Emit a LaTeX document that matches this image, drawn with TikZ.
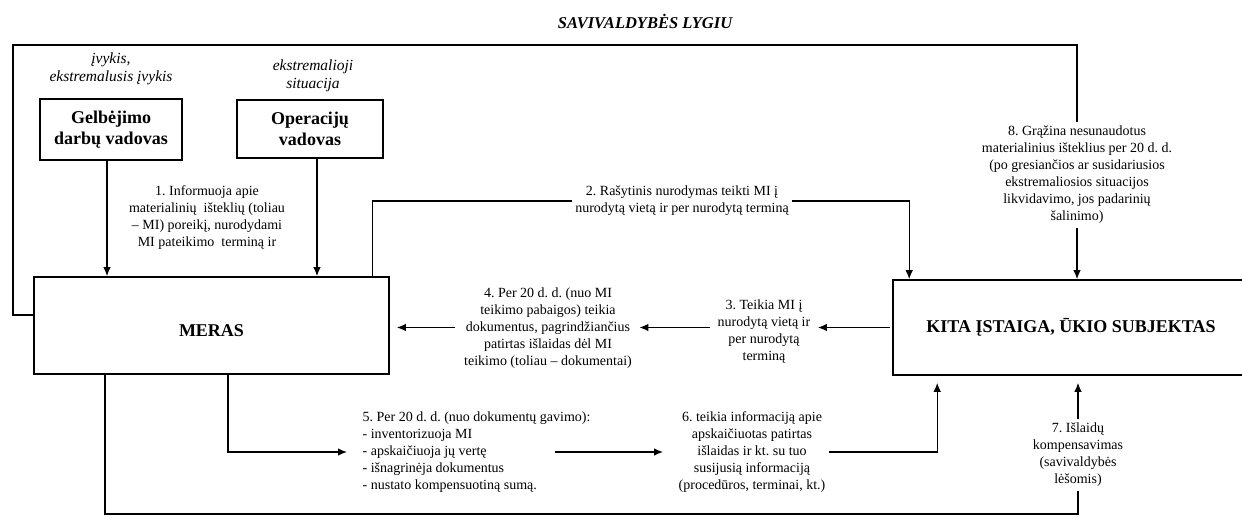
\documentclass[tikz,border=0pt]{standalone}
\usepackage{fontspec}
\setmainfont{Liberation Serif}
\usetikzlibrary{arrows.meta}
\frenchspacing
\begin{document}
\begin{tikzpicture}[x=1pt,y=-1pt,>={Latex[length=9pt,width=7.5pt]},line width=1.3pt,
    box/.style={draw,line width=1.6pt,align=center,font=\fontsize{18}{21}\selectfont\bfseries},
    lbl/.style={align=center,inner sep=3pt,font=\fontsize{14}{17}\selectfont},
    ev/.style={align=center,font=\fontsize{15.5}{18}\selectfont\itshape}]
		\newcommand{\frametop}{45}
		\newcommand{\botline}{514}
		\newcommand{\arrgap}{7pt}

		\useasboundingbox (0,0) rectangle (1242,517);
		\clip (0,0) rectangle (1242,517);

		% title and events
		\node[font=\fontsize{16.5}{19}\selectfont\bfseries\itshape] (title) at (645,21) {SAVIVALDYBĖS LYGIU};
		\node[ev] (evgelb) at (111,69) {įvykis,\\ekstremalusis įvykis};
		\node[ev] (evoper) at (313,76) {ekstremalioji\\situacija};

		% boxes
		\node[box,minimum width=142,minimum height=61] (gelb) at (111,129.5) {Gelbėjimo\\darbų vadovas};
		\node[box,minimum width=146,minimum height=58] (oper) at (310,129) {Operacijų\\vadovas};
		\node[box,minimum width=355,minimum height=97,text height=22pt,text depth=0pt] (meras) at (211.5,325.5) {MERAS};
		\node[box,minimum width=356,minimum height=95] (kita) at (1071,327.5) {KITA ĮSTAIGA, ŪKIO SUBJEKTAS};

		% step labels
		\node[lbl] (lab1) at (207,218) {1. Informuoja apie\\materialinių\ \ išteklių (toliau\\– MI) poreikį, nurodydami\\MI pateikimo\ \ terminą ir};
		\node[lbl] (lab2) at (682,201) {2. Rašytinis nurodymas teikti MI į\\nurodytą vietą ir per nurodytą terminą};
		\node[lbl] (lab3) at (764,332) {3. Teikia MI į\\nurodytą vietą ir\\per nurodytą\\terminą};
		\node[lbl] (lab4) at (548,328) {4. Per 20 d. d. (nuo MI\\teikimo pabaigos) teikia\\dokumentus, pagrindžiančius\\patirtas išlaidas dėl MI\\teikimo (toliau – dokumentai)};
		\node[lbl,anchor=west,align=left] (lab5) at (359,452) {5. Per 20 d. d. (nuo dokumentų gavimo):\\- inventorizuoja MI\\- apskaičiuoja jų vertę\\- išnagrinėja dokumentus\\- nustato kompensuotiną sumą.};
		\node[lbl] (lab6) at (752,452) {6. teikia informaciją apie\\apskaičiuotas patirtas\\išlaidas ir kt. su tuo\\susijusią informaciją\\(procedūros, terminai, kt.)};
		\node[lbl] (lab7) at (1078,455) {7. Išlaidų\\kompensavimas\\(savivaldybės\\lėšomis)};
		\node[lbl] (lab8) at (1077,175) {8. Grąžina nesunaudotus\\materialinius išteklius per 20 d. d.\\(po gresiančios ar susidariusios\\ekstremaliosios situacijos\\likvidavimo, jos padarinių\\šalinimo)};

		% outer frame (8)
		\coordinate (frl) at (13,\frametop);
		\draw ([yshift=10.5pt]meras.west) -| (frl) -| (lab8.north);
		\draw[->] (lab8.south) -- (lab8.south |- kita.north);

		% arrows 1
		\draw[->] ([xshift=-4pt]gelb.south) -- ([xshift=-4pt]gelb.south |- meras.north);
		\draw[->] ([xshift=7pt]oper.south) -- ([xshift=7pt]oper.south |- meras.north);

		% arrow 2
		\draw ([xshift=-17pt]meras.north east) |- (lab2.west);
		\draw[->] (lab2.east) -| ([xshift=17pt]kita.north west);

		% arrows 3 and 4
		\draw[->,shorten <=2pt,shorten >=4pt] (kita.west) -- (kita.west -| lab3.east);
		\draw[->,shorten <=4pt,shorten >=4pt] (lab3.west |- kita.west) -- (lab4.east |- kita.west);
		\draw[->,shorten <=6pt,shorten >=\arrgap] (lab4.west |- kita.west) -- (meras.east |- kita.west);

		% arrows 5 and 6
		\draw[->,shorten >=12pt] ([xshift=16.5pt]meras.south) |- (lab5.west);
		\draw[->,shorten >=12pt] ([xshift=196pt]lab5.west) -- (lab6.west);
		\draw[->,shorten >=\arrgap] (lab6.east) -| ([xshift=45pt]kita.south west);

		% arrow 7
		\coordinate (bl) at (105,\botline);
		\draw (meras.south -| bl) -- (bl) -| (lab7.south);
		\draw[->,shorten >=\arrgap] (lab7.north) -- (lab7.north |- kita.south);
\end{tikzpicture}
\end{document}
